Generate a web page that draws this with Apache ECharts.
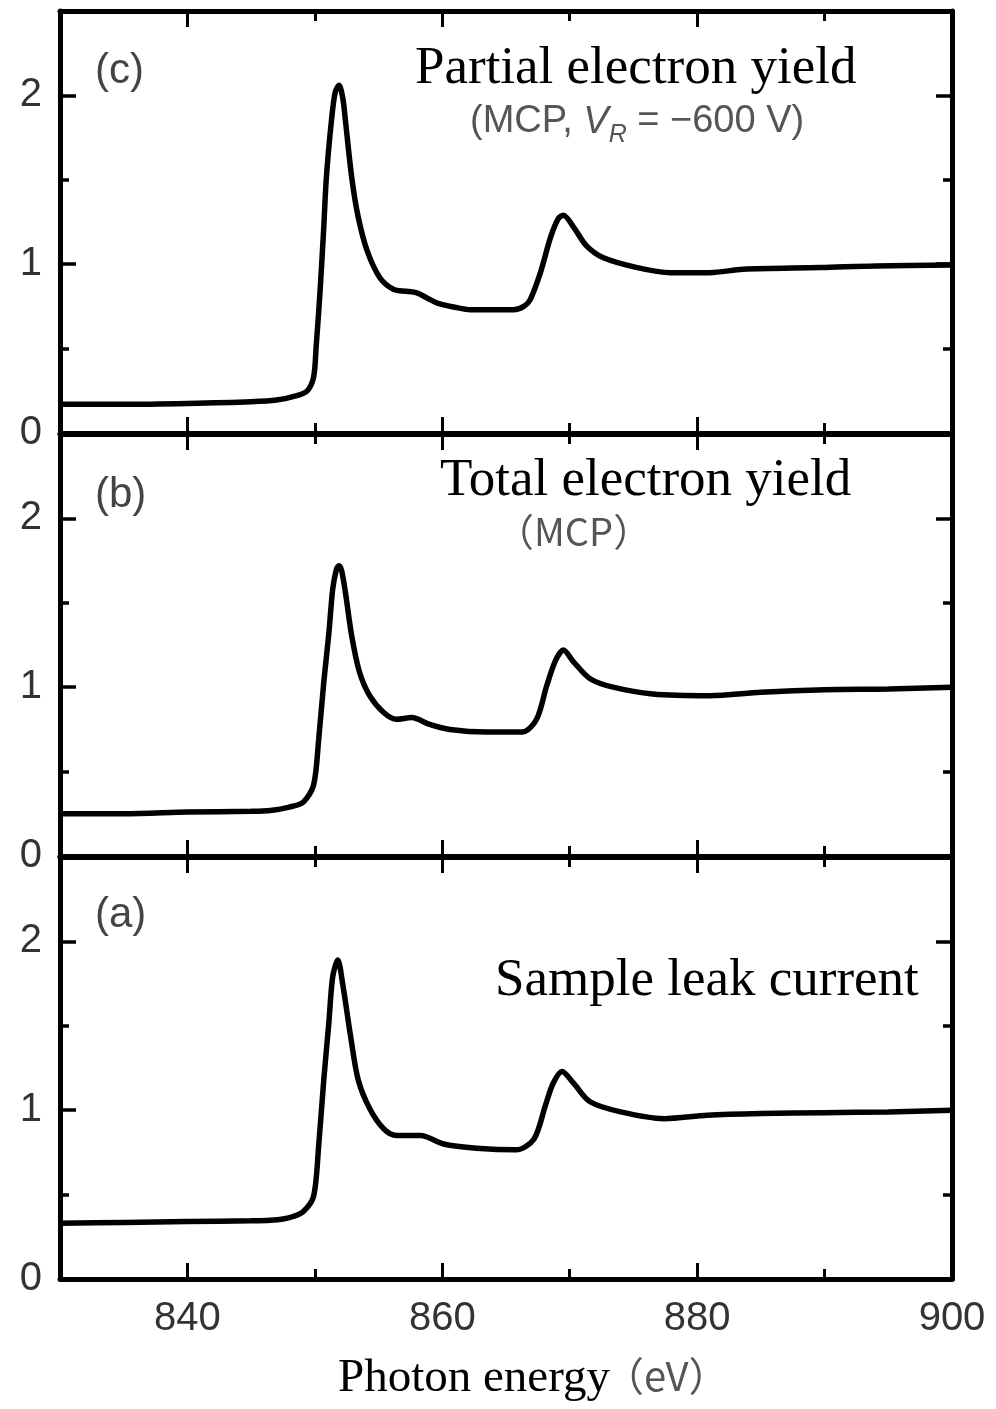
<!DOCTYPE html>
<html>
<head>
<meta charset="utf-8">
<script src="https://cdn.jsdelivr.net/npm/echarts@6/dist/echarts.min.js"></script>
<style>
html,body{margin:0;padding:0;background:#fff;}
#chart{width:996px;height:1409px;}
</style>
</head>
<body>
<div id="chart"></div>
<script>
// ---- Data (photon energy in eV, normalized yield) ----
const energyC = [830,835,840,845,847,848.5,849.4,849.9,850.1,850.4,850.7,850.9,851.3,851.6,851.9,852.2,852.4,852.9,853.4,854.1,855.1,856.2,857.2,858,858.8,859.6,861,862.2,865.6,866.4,866.9,867.7,868.5,869.1,869.5,870.3,871.3,872.6,875.3,877.9,881,883.6,889.7,894,900];
const yieldC  = [0.17,0.17,0.175,0.185,0.195,0.22,0.25,0.33,0.51,0.83,1.22,1.51,1.85,2.02,2.06,1.98,1.85,1.51,1.28,1.08,0.92,0.85,0.84,0.83,0.80,0.77,0.745,0.73,0.73,0.75,0.79,0.95,1.16,1.27,1.29,1.22,1.11,1.04,0.98,0.95,0.95,0.97,0.98,0.99,0.995];

const energyB = [830,835,840,845,846.5,848,849.1,849.9,850.3,850.7,851.1,851.4,851.7,851.9,852.1,852.4,852.9,853.5,854.3,855.4,856.4,857.6,859,860.6,863.5,866.3,867.4,868.2,868.9,869.5,870.3,871.6,873.4,876.5,881,885,890,895,900];
const yieldB  = [0.25,0.25,0.26,0.265,0.27,0.29,0.32,0.42,0.69,1.03,1.32,1.58,1.70,1.72,1.69,1.56,1.30,1.09,0.95,0.85,0.81,0.82,0.78,0.75,0.735,0.735,0.81,1.01,1.16,1.22,1.15,1.05,1.00,0.96,0.95,0.97,0.985,0.99,1.0];

const energyA = [830,835,840,845,846.5,847.5,848.3,849.1,849.9,850.3,850.7,851.1,851.4,851.8,852.2,852.8,853.4,854.3,855.4,856.4,857.5,858.3,860.1,862.7,865.8,867.2,868.1,868.7,869.4,870.3,871.6,874,877.4,880.8,885,890,895,900];
const yieldA  = [0.33,0.335,0.34,0.345,0.348,0.355,0.37,0.40,0.49,0.79,1.18,1.52,1.79,1.89,1.74,1.44,1.18,1.01,0.89,0.85,0.85,0.85,0.80,0.775,0.765,0.83,1.03,1.16,1.23,1.16,1.05,0.99,0.95,0.97,0.98,0.985,0.99,1.0];

const xMajorTicks = [840,860,880,900];
const xMinorTicks = [850,870,890];
const yMajorTicks = [0,1,2];
const yMinorTicks = [0.5,1.5];
const panelLetters = ['(c)','(b)','(a)'];

// ---- Layout ----
const gridTops = [11, 434, 857];
const gridH = 422;
const LEFT = 60, RIGHT = 44;
const AXW = 5;

const chart = echarts.init(document.getElementById('chart'), null, {renderer:'canvas'});

const grids = [], xAxes = [], yAxes = [], series = [];
const dataSets = [[energyC,yieldC],[energyB,yieldB],[energyA,yieldA]];
const sans = 'Liberation Sans, Arial, sans-serif';
const serif = 'Liberation Serif, "Times New Roman", serif';

gridTops.forEach((top, g) => {
  grids.push({left: LEFT, right: RIGHT, top: top, height: gridH, containLabel:false});
  const isBottom = (g === 2);
  const xBase = {gridIndex:g, type:'value', min:830, max:900, interval:10, splitLine:{show:false}};
  xAxes.push(Object.assign({}, xBase, {
    position:'bottom',
    axisLine:{show:true, onZero:false, lineStyle:{color:'#000', width:AXW}},
    axisTick:{show:true, inside:true, length:16, customValues:xMajorTicks, lineStyle:{color:'#000', width:3}},
    axisLabel:{show:isBottom, customValues:xMajorTicks, margin:20, color:'#333', fontSize:40, fontFamily:sans}
  }));
  xAxes.push(Object.assign({}, xBase, {
    position:'bottom',
    axisLine:{show:false, onZero:false},
    axisTick:{show:true, inside:true, length:10, customValues:xMinorTicks, lineStyle:{color:'#000', width:3}},
    axisLabel:{show:false}
  }));
  xAxes.push(Object.assign({}, xBase, {
    position:'top',
    axisLine:{show:true, onZero:false, lineStyle:{color:'#000', width:AXW}},
    axisTick:{show:true, inside:true, length:16, customValues:xMajorTicks, lineStyle:{color:'#000', width:3}},
    axisLabel:{show:false}
  }));
  xAxes.push(Object.assign({}, xBase, {
    position:'top',
    axisLine:{show:false, onZero:false},
    axisTick:{show:true, inside:true, length:10, customValues:xMinorTicks, lineStyle:{color:'#000', width:3}},
    axisLabel:{show:false}
  }));

  const yBase = {gridIndex:g, type:'value', min:0, max:2.5, interval:0.5, splitLine:{show:false}};
  yAxes.push(Object.assign({}, yBase, {
    position:'left',
    axisLine:{show:true, onZero:false, lineStyle:{color:'#000', width:AXW}},
    axisTick:{show:true, inside:true, length:16, customValues:yMajorTicks, lineStyle:{color:'#000', width:3.5}},
    axisLabel:{show:true, customValues:yMajorTicks, margin:18, color:'#333', fontSize:40, fontFamily:sans}
  }));
  yAxes.push(Object.assign({}, yBase, {
    position:'left',
    axisLine:{show:false, onZero:false},
    axisTick:{show:true, inside:true, length:9, customValues:yMinorTicks, lineStyle:{color:'#000', width:3.5}},
    axisLabel:{show:false}
  }));
  yAxes.push(Object.assign({}, yBase, {
    position:'right',
    axisLine:{show:true, onZero:false, lineStyle:{color:'#000', width:AXW}},
    axisTick:{show:true, inside:true, length:16, customValues:yMajorTicks, lineStyle:{color:'#000', width:3.5}},
    axisLabel:{show:false}
  }));
  yAxes.push(Object.assign({}, yBase, {
    position:'right',
    axisLine:{show:false, onZero:false},
    axisTick:{show:true, inside:true, length:9, customValues:yMinorTicks, lineStyle:{color:'#000', width:3.5}},
    axisLabel:{show:false}
  }));

  const [xs, ys] = dataSets[g];
  series.push({
    type:'line',
    xAxisIndex: g*4,
    yAxisIndex: g*4,
    data: xs.map((x,i)=>[x, ys[i]]),
    showSymbol:false,
    smooth:0.3,
    lineStyle:{color:'#000', width:5.5},
    z:3,
    animation:false
  });
});

const letterTops = [50, 474, 894];
const graphics = [];
panelLetters.forEach((t, g) => {
  graphics.push({type:'text', left:95, top:letterTops[g], style:{text:t, fill:'#444', font:'42px ' + sans}});
});
graphics.push(
  {type:'text', left:415, top:43, style:{text:'Partial electron yield', fill:'#000', font:'53px ' + serif}},
  {type:'text', left:470, top:103, style:{
    text:'(MCP, {v|V}{r|R} = \u2212600 V)', fill:'#555', font:'38px ' + sans,
    rich:{v:{fontStyle:'italic', fontSize:38, fill:'#555', fontFamily:sans},
          r:{fontStyle:'italic', fontSize:25, fill:'#555', fontFamily:sans, padding:[26,0,0,0]}}
  }},
  {type:'text', left:440, top:455, style:{text:'Total electron yield', fill:'#000', font:'53px ' + serif}},
  {type:'text', left:496, top:513, style:{text:'\uFF08MCP\uFF09', fill:'#555', font:'38px "Noto Sans CJK JP", sans-serif'}},
  {type:'text', left:495, top:955, style:{text:'Sample leak current', fill:'#000', font:'53px ' + serif}},
  {type:'text', left:338, top:1355, style:{text:'Photon energy', fill:'#000', font:'47px ' + serif}},
  {type:'text', left:604, top:1356, style:{text:'\uFF08eV\uFF09', fill:'#555', font:'40px "Noto Sans CJK JP", sans-serif'}}
);

chart.setOption({
  backgroundColor:'#fff',
  animation:false,
  grid: grids,
  xAxis: xAxes,
  yAxis: yAxes,
  series: series,
  graphic: graphics
});
</script>
</body>
</html>
